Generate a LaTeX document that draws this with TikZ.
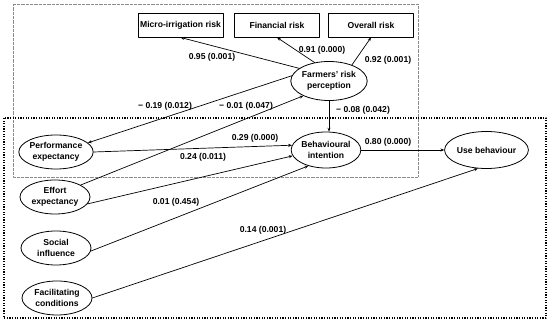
\documentclass[tikz,border=0pt]{standalone}
\usepackage{fontspec}
\setmainfont{Liberation Sans}
\usetikzlibrary{shapes.geometric,arrows.meta}
\begin{document}
\begin{tikzpicture}[x=1pt, y=-1pt, font=\fontsize{8.6}{10.8}\selectfont\bfseries, line join=round, line cap=round, >={Stealth[length=3.8pt,width=3pt]},
	riskbox/.style={draw, line width=0.9pt, minimum width=85pt, minimum height=24pt, inner sep=0pt},
	construct/.style={draw, ellipse, line width=0.8pt, align=center, inner sep=0pt, minimum width=70pt, minimum height=34pt},
	link/.style={->, line width=0.7pt},
	coef/.style={inner sep=1pt}]
	\useasboundingbox (0,0) rectangle (550,331);
	% the two groups
	\draw[gray!90, line width=0.5pt, line cap=butt, dash pattern=on 0.6pt off 0.7pt] (13,4) rectangle (418,177);
	\draw[line width=1.7pt, line cap=butt, dash pattern=on 1.2pt off 1.4pt] (4,118) rectangle (546,318);
	% constructs
	\path
	(180.5,25) node[riskbox] (micro) {Micro-irrigation risk}
	(277,25) node[riskbox] (fin) {Financial risk}
	(371,25) node[riskbox] (overall) {Overall risk}
	(329,81) node[construct, minimum height=39pt] (frp) {Farmers' risk\\perception}
	(56,152) node[construct] (pe) {Performance\\expectancy}
	(55,197) node[construct] (ee) {Effort\\expectancy}
	(56,248) node[construct] (si) {Social\\influence}
	(57,298) node[construct] (fc) {Facilitating\\conditions}
	(326,150) node[construct, minimum width=68pt, minimum height=36pt] (bi) {Behavioural\\intention}
	(486.5,150) node[construct, minimum width=67pt, minimum height=37pt] (ub) {Use behaviour};
	% paths
	\draw[link] (frp.157) -- (micro.south);
	\draw[link] (frp.128) -- (fin.south);
	\draw[link] (frp.35) -- (overall.south);
	\draw[link] (frp.172) -- (pe.16);
	\draw[link] (ee.25) -- (frp.210);
	\draw[link] (frp.south) -- (frp.south |- bi.north);
	\draw[link] (pe.east) -- (bi.172);
	\draw[link] (ee.-12) -- (bi.190);
	\draw[link] (si.-5) -- (bi.222);
	\draw[link] (fc.0) -- (ub.245);
	\draw[link] (bi.east) -- (ub.west);
	% coefficients
	\path
	(212,57) node[coef] (c95) {0.95 (0.001)}
	(322,50) node[coef] (c91) {0.91 (0.000)}
	(388,60) node[coef] (c92) {0.92 (0.001)}
	(165,106) node[coef] (c19) {− 0.19 (0.012)}
	(246,106) node[coef] (c01a) {− 0.01 (0.047)}
	(363,110) node[coef] (c08) {− 0.08 (0.042)}
	(255,138) node[coef] (c29) {0.29 (0.000)}
	(203,157) node[coef] (c24) {0.24 (0.011)}
	(176,202) node[coef] (c01b) {0.01 (0.454)}
	(263,230) node[coef] (c14) {0.14 (0.001)}
	(388,142) node[coef] (c80) {0.80 (0.000)};
\end{tikzpicture}
\end{document}
